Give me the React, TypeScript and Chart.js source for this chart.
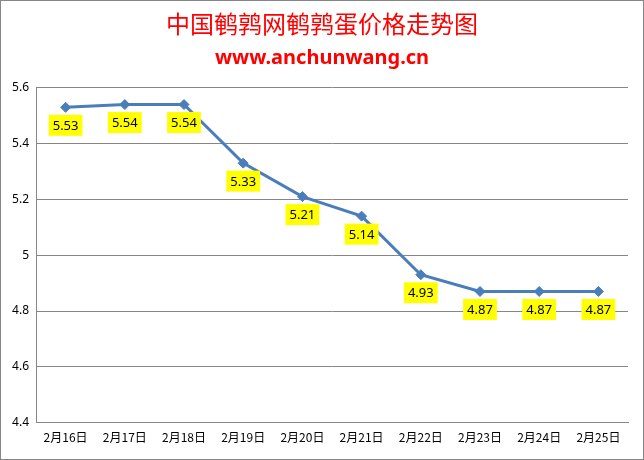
import { useEffect, useRef } from 'react';
import { Chart, registerables } from 'chart.js';

Chart.register(...registerables);

const dates = ['2月16日', '2月17日', '2月18日', '2月19日', '2月20日', '2月21日', '2月22日', '2月23日', '2月24日', '2月25日'];
const prices = [5.53, 5.54, 5.54, 5.33, 5.21, 5.14, 4.93, 4.87, 4.87, 4.87];

const titleText = '中国鹌鹑网鹌鹑蛋价格走势图';
const subtitleText = 'www.anchunwang.cn';

const palette = {
  line: '#4A7EBB',
  grid: '#868686',
  title: '#FF0000',
  label: '#FFFF00',
  text: '#000000',
};

// yellow value boxes under each point
const valueLabels = {
  id: 'valueLabels',
  afterDatasetsDraw(chart: Chart) {
    const ctx = chart.ctx;
    const meta = chart.getDatasetMeta(0);
    ctx.save();
    ctx.font = '13px "Noto Sans", sans-serif';
    ctx.textAlign = 'center';
    ctx.textBaseline = 'middle';
    meta.data.forEach((pt, i) => {
      const text = prices[i].toFixed(2);
      const w = ctx.measureText(text).width + 8;
      const h = 21;
      const cx = pt.x;
      const cy = pt.y + 18;
      ctx.fillStyle = palette.label;
      ctx.fillRect(cx - w / 2, cy - h / 2, w, h);
      ctx.fillStyle = palette.text;
      ctx.fillText(text, cx, cy + 1);
    });
    ctx.restore();
  },
};

export default function App(): JSX.Element {
  const canvasRef = useRef<HTMLCanvasElement | null>(null);
  const chartRef = useRef<Chart | null>(null);

  useEffect(() => {
    document.body.style.margin = '0';
    if (!canvasRef.current) return;
    const context = canvasRef.current.getContext('2d');
    if (!context) return;

    chartRef.current = new Chart(context, {
      type: 'line',
      data: {
        labels: dates,
        datasets: [
          {
            data: prices,
            borderColor: palette.line,
            backgroundColor: palette.line,
            borderWidth: 3,
            pointStyle: 'rectRot',
            pointRadius: 5,
            pointBorderWidth: 1,
            tension: 0,
          },
        ],
      },
      options: {
        responsive: false,
        animation: false,
        layout: { padding: { left: 0, right: 0, top: 0, bottom: 6 } },
        plugins: {
          legend: { display: false },
          tooltip: { enabled: false },
          title: {
            display: true,
            text: titleText,
            color: palette.title,
            font: { family: '"Noto Sans CJK SC", sans-serif', size: 24, weight: 'normal' },
            padding: { top: 8, bottom: 2 },
          },
          subtitle: {
            display: true,
            text: subtitleText,
            color: palette.title,
            font: { family: '"Noto Sans", sans-serif', size: 20, weight: 'bold' },
            padding: { top: 6, bottom: 18 },
          },
        },
        scales: {
          x: {
            offset: true,
            grid: { display: false, drawTicks: false },
            border: { color: palette.grid, width: 1 },
            ticks: {
              color: palette.text,
              padding: 8,
              maxRotation: 0,
              autoSkip: false,
              font: { family: '"Noto Sans CJK SC", sans-serif', size: 12 },
            },
          },
          y: {
            min: 4.4,
            max: 5.6,
            afterFit: (scale) => {
              scale.width = 35;
            },
            grid: { color: palette.grid, drawTicks: false },
            border: { color: palette.grid, width: 1 },
            ticks: {
              stepSize: 0.2,
              color: palette.text,
              padding: 7,
              font: { family: '"Noto Sans", sans-serif', size: 12 },
              callback: (value) => String(Math.round(Number(value) * 10) / 10),
            },
          },
          // empty right-hand gap, keeps the title centred on the whole chart
          yRight: {
            position: 'right',
            min: 4.4,
            max: 5.6,
            afterFit: (scale) => {
              scale.width = 15;
            },
            grid: { display: false, drawTicks: false },
            border: { display: false },
            ticks: { display: false },
          },
        },
      },
      plugins: [valueLabels],
    });

    return () => {
      chartRef.current?.destroy();
      chartRef.current = null;
    };
  }, []);

  return (
    <div style={{ width: 644, height: 460, boxSizing: 'border-box', border: '1px solid #868686', background: '#fff' }}>
      <canvas ref={canvasRef} width={642} height={458} />
    </div>
  );
}
